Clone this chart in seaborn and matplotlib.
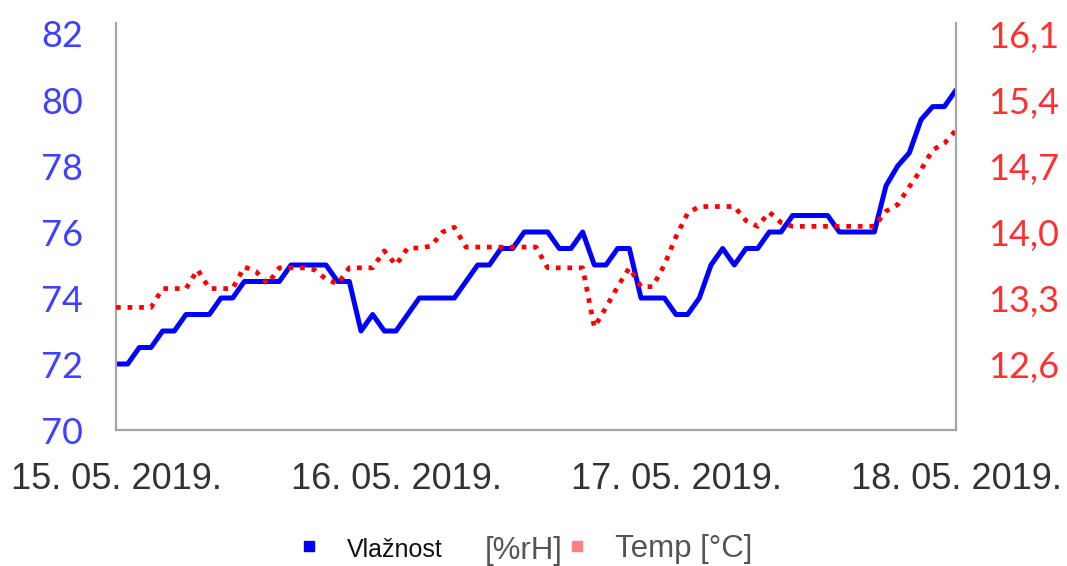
import numpy as np
import pandas as pd
import matplotlib
matplotlib.use("Agg")
import matplotlib.pyplot as plt
import matplotlib.dates as mdates
from matplotlib.ticker import FixedLocator, FuncFormatter
from matplotlib.lines import Line2D
import seaborn as sns

# ---- data (hourly readings, 15.05.2019 00:00 -> 18.05.2019 00:00) ----
start_time = "2019-05-15 00:00"
humidity = [72, 72, 72.5, 72.5, 73, 73, 73.5, 73.5, 73.5, 74, 74, 74.5, 74.5, 74.5, 74.5,
            75, 75, 75, 75, 74.5, 74.5, 73, 73.5, 73, 73, 73.5, 74, 74, 74, 74, 74.5,
            75, 75, 75.5, 75.5, 76, 76, 76, 75.5, 75.5, 76, 75, 75, 75.5, 75.5, 74, 74,
            74, 73.5, 73.5, 74, 75, 75.5, 75, 75.5, 75.5, 76, 76, 76.5, 76.5, 76.5, 76.5,
            76, 76, 76, 76, 77.4, 78, 78.4, 79.4, 79.8, 79.8, 80.3]
temperature = [13.2, 13.2, 13.2, 13.2, 13.4, 13.4, 13.4, 13.6, 13.4, 13.4, 13.4, 13.63,
               13.58, 13.45, 13.62, 13.62, 13.62, 13.6, 13.5, 13.45, 13.62, 13.62, 13.62,
               13.8, 13.65, 13.83, 13.83, 13.85, 14.0, 14.05, 13.84, 13.84, 13.84, 13.84,
               13.84, 13.84, 13.84, 13.62, 13.62, 13.62, 13.62, 12.99, 13.2, 13.42, 13.62,
               13.42, 13.42, 13.65, 13.95, 14.2, 14.27, 14.27, 14.27, 14.27, 14.12, 14.06,
               14.21, 14.1, 14.06, 14.06, 14.06, 14.06, 14.06, 14.06, 14.06, 14.06, 14.22,
               14.29, 14.48, 14.66, 14.87, 14.94, 15.08]
left_ticks = [70, 72, 74, 76, 78, 80, 82]
right_ticks = [12.6, 13.3, 14.0, 14.7, 15.4, 16.1]
legend_labels = ["Vlažnost", "Temp [°C]"]
unit_label = "[%rH]"

times = pd.date_range(start_time, periods=len(humidity), freq="h")
df = pd.DataFrame({"time": times, "hum": humidity, "temp": temperature})

sns.set_theme(style="white")
plt.rcParams["font.family"] = ["Liberation Sans", "DejaVu Sans"]

fig = plt.figure(figsize=(10.67, 5.66), dpi=100)
ax = fig.add_axes([116 / 1067, 1 - 430 / 566, (956 - 116) / 1067, (430 - 23) / 566])
ax2 = ax.twinx()

sns.lineplot(data=df, x="time", y="hum", ax=ax, color="#0000FF", linewidth=3.6,
             legend=False, solid_capstyle="round", solid_joinstyle="round")
sns.lineplot(data=df, x="time", y="temp", ax=ax2, color="#FF0000", linewidth=3.4,
             legend=False, linestyle=(0, (1.0, 1.45)), dash_capstyle="butt")

ax.set_xlim(times[0], times[-1])
ax.set_ylim(70, 70 + (430 - 23) / 33)
ax2.set_ylim(11.9, 11.9 + (430 - 23) / 33 * 0.35)

ax.yaxis.set_major_locator(FixedLocator(left_ticks))
ax2.yaxis.set_major_locator(FixedLocator(right_ticks))
ax2.yaxis.set_major_formatter(FuncFormatter(lambda v, p: f"{v:.1f}".replace(".", ",")))
ax.xaxis.set_major_locator(mdates.DayLocator())
ax.xaxis.set_major_formatter(mdates.DateFormatter("%d. %m. %Y."))

ax.set_xlabel("")
ax.set_ylabel("")
ax2.set_ylabel("")

ax.tick_params(axis="y", length=0, pad=24, labelsize=26, labelcolor="#4040FF")
ax2.tick_params(axis="y", length=0, pad=23, labelsize=26, labelcolor="#FF3030")
ax.tick_params(axis="x", length=0, pad=23, labelsize=26, labelcolor="#333333")
for lab in ax.get_yticklabels() + ax2.get_yticklabels():
    lab.set_family(["Lato", "DejaVu Sans"])
    lab.set_fontweight("normal")

for a in (ax, ax2):
    a.spines["top"].set_visible(False)
    for s in ("left", "right", "bottom"):
        a.spines[s].set_color("#A6A6A6")
        a.spines[s].set_linewidth(1.6)
ax2.spines["left"].set_visible(False)
ax2.spines["bottom"].set_visible(False)
ax.spines["right"].set_visible(False)
ax.grid(False)
ax2.grid(False)

handles = [
    Line2D([], [], linestyle="none", marker="s", markersize=7, color="#0000FF"),
    Line2D([], [], linestyle="none", marker="s", markersize=7, color="#FF8080"),
]
leg = fig.legend(handles, legend_labels, loc="center", bbox_to_anchor=(0.493, 1 - 549 / 566),
                 ncol=2, frameon=False, fontsize=22.5, handlelength=0.6, handletextpad=0.92,
                 columnspacing=4.0)
texts = leg.get_texts()
texts[0].set_color("#111111")
texts[0].set_fontsize(18)
texts[1].set_color("#555555")
fig.canvas.draw()
ax.annotate(unit_label, xy=(1, 0.45), xycoords=texts[0], xytext=(30, 0),
            textcoords="offset points", ha="left", va="center",
            fontsize=22.5, color="#555555", annotation_clip=False)

fig.savefig("out.png", dpi=100)
